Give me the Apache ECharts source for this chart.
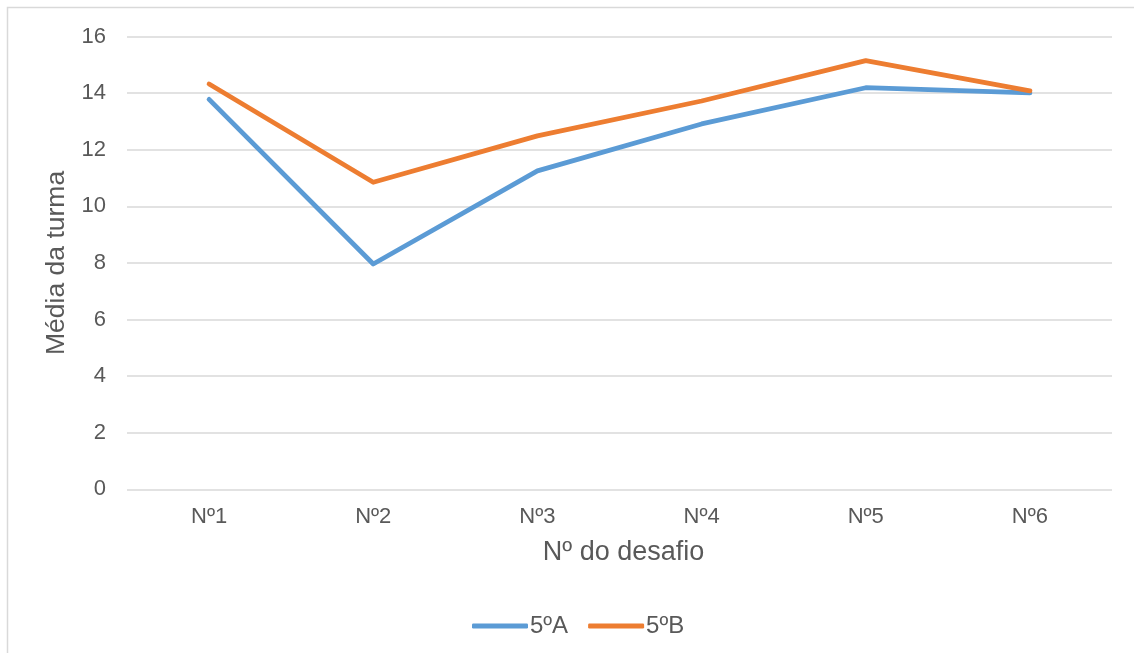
<!DOCTYPE html>
<html><head><meta charset="utf-8">
<script src="https://cdn.jsdelivr.net/npm/echarts@6/dist/echarts.min.js"></script>
<style>html,body{margin:0;padding:0;background:#fff}#c{width:1134px;height:653px}</style>
</head><body><div id="c"></div>
<script>
const categories = ['Nº1','Nº2','Nº3','Nº4','Nº5','Nº6'];
const serieA = [13.78, 7.96, 11.25, 12.91, 14.19, 14.01];
const serieB = [14.32, 10.85, 12.49, 13.72, 15.15, 14.08];
const seriesNames = ['5ºA','5ºB'];
const yTicks = {min:0, max:16, interval:2};

const FONT = '"Liberation Sans", Arial, sans-serif';
const TXT = '#595959';
const chart = echarts.init(document.getElementById('c'));
chart.setOption({
  animation:false,
  backgroundColor:'#fff',
  graphic:[{type:'rect', shape:{x:7.5,y:7.5,width:1200,height:700}, style:{fill:'none', stroke:'#d9d9d9', lineWidth:1.5}, silent:true}],
  grid:{left:127, right:22, top:36.5, bottom:163.7},
  legend:{
    data:seriesNames, left:467, top:609,
    itemWidth:56, itemHeight:5, itemGap:20,
    icon:'roundRect',
    textStyle:{fontFamily:FONT, fontSize:24, color:TXT, padding:[0,0,0,-3]}
  },
  xAxis:{
    type:'category', data:categories, boundaryGap:true,
    axisLine:{show:false}, axisTick:{show:false},
    axisLabel:{fontFamily:FONT, fontSize:22, color:TXT, margin:17},
    name:'Nº do desafio', nameLocation:'middle', nameGap:50,
    nameTextStyle:{fontFamily:FONT, fontSize:27, color:TXT, padding:[0,0,0,8]}
  },
  yAxis:{
    type:'value', min:yTicks.min, max:yTicks.max, interval:yTicks.interval,
    axisLine:{show:false}, axisTick:{show:false},
    axisLabel:{fontFamily:FONT, fontSize:22, color:TXT, margin:21, padding:[5,0,0,0]},
    splitLine:{lineStyle:{color:'#d9d9d9', width:1.5}},
    name:'Média da turma', nameLocation:'middle', nameRotate:90, nameGap:57,
    nameTextStyle:{fontFamily:FONT, fontSize:26.5, color:TXT}
  },
  series:[
    {name:seriesNames[0], type:'line', data:serieA, symbol:'none', lineStyle:{color:'#5B9BD5', width:4.8, cap:'round', join:'round'}, itemStyle:{color:'#5B9BD5'}},
    {name:seriesNames[1], type:'line', data:serieB, symbol:'none', lineStyle:{color:'#ED7D31', width:4.8, cap:'round', join:'round'}, itemStyle:{color:'#ED7D31'}}
  ]
});
</script></body></html>
